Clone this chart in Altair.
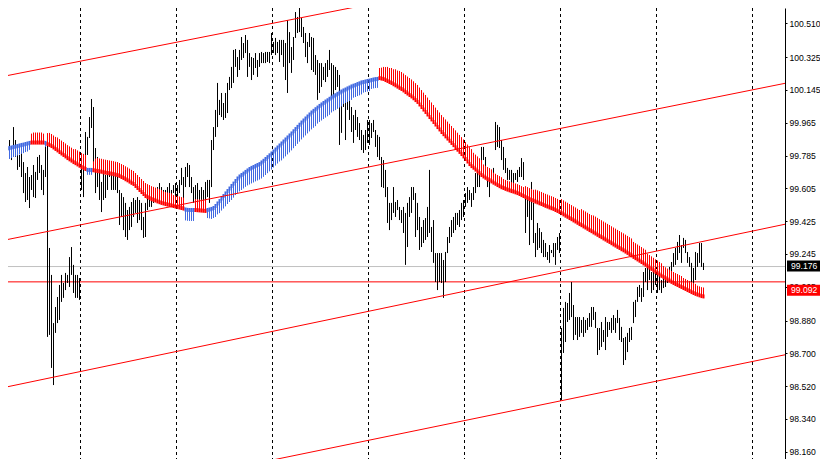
import altair as alt
import pandas as pd

# ---------------- data ----------------
bar_high = [
    99.881, 99.870, 99.854, 99.843, 99.870, 99.832, 99.941, 99.870, 99.815, 99.788,
    99.804, 99.749, 99.689, 99.722, 99.667, 99.678, 99.733, 99.695, 99.777, 99.788,
    99.733, 99.706, 99.854, 99.854, 99.278, 99.130, 98.866, 98.954, 99.009, 99.075,
    99.130, 99.086, 99.141, 99.130, 99.228, 99.283, 99.185, 99.130, 99.130, 99.113,
    99.777, 99.771, 99.914, 99.887, 99.996, 100.095, 100.051, 99.826, 99.777, 99.706,
    99.640, 99.689, 99.678, 99.722, 99.706, 99.695, 99.689, 99.678, 99.689, 99.596,
    99.579, 99.557, 99.525, 99.486, 99.503, 99.530, 99.552, 99.541, 99.557, 99.541,
    99.525, 99.448, 99.525, 99.557, 99.557, 99.579, 99.596, 99.596, 99.612, 99.634,
    99.612, 99.596, 99.596, 99.612, 99.634, 99.596, 99.623, 99.634, 99.623, 99.651,
    99.717, 99.667, 99.722, 99.744, 99.733, 99.667, 99.612, 99.623, 99.634, 99.596,
    99.612, 99.596, 99.640, 99.651, 99.651, 99.870, 99.941, 100.035, 100.183, 100.090,
    100.128, 100.073, 100.128, 100.183, 100.216, 100.271, 100.364, 100.369, 100.325, 100.364,
    100.435, 100.402, 100.446, 100.419, 100.347, 100.325, 100.320, 100.347, 100.309, 100.347,
    100.353, 100.347, 100.353, 100.353, 100.353, 100.457, 100.408, 100.430, 100.408, 100.419,
    100.419, 100.419, 100.402, 100.528, 100.462, 100.380, 100.435, 100.572, 100.545, 100.600,
    100.539, 100.490, 100.457, 100.408, 100.457, 100.435, 100.430, 100.336, 100.309, 100.292,
    100.292, 100.271, 100.292, 100.309, 100.364, 100.292, 100.281, 100.271, 100.254, 100.227,
    100.090, 100.128, 100.090, 100.106, 100.106, 100.051, 100.007, 100.035, 99.996, 99.963,
    99.925, 99.898, 99.925, 99.980, 99.980, 99.963, 99.980, 99.925, 99.898, 99.887,
    99.777, 99.760, 99.706, 99.612, 99.525, 99.525, 99.612, 99.530, 99.541, 99.503,
    99.486, 99.503, 99.470, 99.525, 99.557, 99.612, 99.612, 99.579, 99.525, 99.448,
    99.393, 99.431, 99.442, 99.503, 99.706, 99.393, 99.431, 99.250, 99.250, 99.250,
    99.250, 99.212, 99.256, 99.338, 99.393, 99.431, 99.448, 99.470, 99.470, 99.486,
    99.525, 99.541, 99.579, 99.612, 99.596, 99.579, 99.612, 99.689, 99.744, 99.706,
    99.832, 99.832, 99.777, 99.689, 99.651, 99.689, 99.717, 99.969, 99.953, 99.941,
    99.870, 99.832, 99.771, 99.717, 99.706, 99.706, 99.689, 99.689, 99.706, 99.722,
    99.771, 99.749, 99.607, 99.557, 99.557, 99.640, 99.525, 99.360, 99.415, 99.387,
    99.365, 99.322, 99.305, 99.256, 99.294, 99.267, 99.305, 99.305, 99.338, 99.360,
    98.839, 98.949, 98.982, 98.976, 99.031, 99.091, 98.965, 98.899, 98.899, 98.899,
    98.883, 98.899, 98.883, 98.894, 98.921, 98.954, 98.954, 98.927, 98.839, 98.839,
    98.872, 98.828, 98.899, 98.872, 98.872, 98.894, 98.910, 98.894, 98.938, 98.894,
    98.845, 98.784, 98.790, 98.812, 98.839, 98.845, 98.982, 98.993, 99.064, 99.075,
    99.058, 99.146, 99.168, 99.168, 99.174, 99.146, 99.146, 99.146, 99.157, 99.130,
    99.102, 99.119, 99.119, 99.157, 99.174, 99.201, 99.250, 99.278, 99.311, 99.349,
    99.294, 99.333, 99.322, 99.256, 99.228, 99.196, 99.168, 99.256, 99.250, 99.305,
    99.305, 99.196,
]
bar_low = [
    99.717, 99.733, 99.749, 99.744, 99.777, 99.760, 99.799, 99.777, 99.706, 99.722,
    99.667, 99.579, 99.530, 99.541, 99.497, 99.596, 99.557, 99.552, 99.651, 99.689,
    99.596, 99.568, 99.667, 98.790, 98.801, 98.620, 98.526, 98.812, 98.866, 98.883,
    98.982, 99.004, 99.047, 99.086, 99.064, 99.130, 99.031, 99.004, 99.004, 98.993,
    99.596, 99.557, 99.777, 99.788, 99.881, 99.936, 99.722, 99.579, 99.612, 99.541,
    99.475, 99.541, 99.552, 99.596, 99.667, 99.596, 99.596, 99.596, 99.579, 99.404,
    99.448, 99.376, 99.338, 99.322, 99.376, 99.393, 99.448, 99.470, 99.415, 99.431,
    99.376, 99.333, 99.338, 99.486, 99.503, 99.503, 99.525, 99.541, 99.541, 99.557,
    99.557, 99.541, 99.525, 99.541, 99.557, 99.525, 99.579, 99.541, 99.541, 99.579,
    99.623, 99.503, 99.612, 99.667, 99.612, 99.579, 99.525, 99.541, 99.503, 99.486,
    99.503, 99.486, 99.541, 99.557, 99.525, 99.612, 99.815, 99.887, 99.941, 100.007,
    99.996, 99.980, 99.991, 100.018, 100.144, 100.155, 100.183, 100.271, 100.216, 100.254,
    100.309, 100.320, 100.347, 100.216, 100.271, 100.199, 100.227, 100.265, 100.216, 100.271,
    100.292, 100.292, 100.292, 100.298, 100.292, 100.336, 100.347, 100.336, 100.347, 100.298,
    100.336, 100.271, 100.199, 100.128, 100.292, 100.238, 100.309, 100.430, 100.457, 100.462,
    100.435, 100.402, 100.325, 100.292, 100.380, 100.254, 100.243, 100.227, 100.090, 100.128,
    100.161, 100.199, 100.188, 100.216, 100.254, 100.051, 100.106, 100.144, 100.161, 99.843,
    99.909, 100.051, 99.870, 100.035, 99.980, 99.914, 99.854, 99.925, 99.887, 99.870,
    99.815, 99.799, 99.815, 99.854, 99.843, 99.881, 99.914, 99.832, 99.777, 99.760,
    99.612, 99.607, 99.557, 99.415, 99.376, 99.431, 99.470, 99.448, 99.486, 99.431,
    99.415, 99.360, 99.185, 99.283, 99.448, 99.470, 99.541, 99.338, 99.376, 99.267,
    99.283, 99.305, 99.322, 99.338, 99.360, 99.256, 99.196, 99.091, 99.047, 99.091,
    99.086, 99.004, 99.091, 99.250, 99.305, 99.338, 99.360, 99.376, 99.404, 99.393,
    99.431, 99.448, 99.503, 99.525, 99.541, 99.503, 99.541, 99.579, 99.612, 99.612,
    99.689, 99.760, 99.667, 99.612, 99.557, 99.634, 99.651, 99.815, 99.832, 99.826,
    99.760, 99.706, 99.689, 99.651, 99.651, 99.612, 99.634, 99.651, 99.640, 99.667,
    99.667, 99.651, 99.360, 99.448, 99.294, 99.431, 99.305, 99.228, 99.267, 99.278,
    99.250, 99.228, 99.228, 99.212, 99.196, 99.250, 99.228, 99.185, 99.267, 99.250,
    98.444, 98.702, 98.762, 98.872, 98.883, 98.899, 98.773, 98.801, 98.773, 98.790,
    98.812, 98.790, 98.812, 98.828, 98.845, 98.845, 98.883, 98.839, 98.691, 98.718,
    98.735, 98.762, 98.718, 98.790, 98.828, 98.812, 98.828, 98.812, 98.866, 98.773,
    98.762, 98.636, 98.663, 98.707, 98.762, 98.773, 98.866, 98.899, 98.982, 99.009,
    98.982, 99.009, 99.091, 99.047, 99.102, 99.031, 99.047, 99.075, 99.031, 99.047,
    99.031, 99.058, 99.064, 99.086, 99.102, 99.141, 99.174, 99.185, 99.212, 99.250,
    99.196, 99.278, 99.250, 99.196, 99.174, 99.047, 99.086, 99.102, 99.174, 99.196,
    99.174, 99.157,
]
ma_value = [
    99.815, 99.818, 99.821, 99.823, 99.826, 99.829, 99.832, 99.834, 99.837, 99.840,
    99.843, 99.845, 99.848, 99.851, 99.854, 99.856, 99.856, 99.856, 99.856, 99.856,
    99.856, 99.856, 99.854, 99.848, 99.843, 99.837, 99.829, 99.821, 99.813, 99.804,
    99.796, 99.788, 99.780, 99.771, 99.764, 99.757, 99.749, 99.743, 99.736, 99.729,
    99.722, 99.717, 99.711, 99.706, 99.706, 99.706, 99.704, 99.702, 99.700, 99.698,
    99.696, 99.693, 99.691, 99.689, 99.687, 99.685, 99.683, 99.680, 99.678, 99.673,
    99.667, 99.662, 99.655, 99.649, 99.642, 99.635, 99.629, 99.618, 99.607, 99.596,
    99.585, 99.574, 99.563, 99.557, 99.552, 99.546, 99.542, 99.538, 99.533, 99.529,
    99.525, 99.522, 99.519, 99.516, 99.514, 99.511, 99.508, 99.505, 99.503, 99.500,
    99.497, 99.494, 99.489, 99.487, 99.486, 99.486, 99.486, 99.486, 99.485, 99.484,
    99.483, 99.482, 99.481, 99.486, 99.489, 99.492, 99.497, 99.508, 99.522, 99.535,
    99.549, 99.563, 99.577, 99.590, 99.604, 99.618, 99.631, 99.645, 99.659, 99.670,
    99.678, 99.686, 99.695, 99.703, 99.711, 99.717, 99.722, 99.728, 99.733, 99.738,
    99.747, 99.756, 99.766, 99.776, 99.786, 99.796, 99.807, 99.818, 99.829, 99.840,
    99.851, 99.862, 99.873, 99.884, 99.895, 99.906, 99.918, 99.930, 99.942, 99.954,
    99.966, 99.977, 99.988, 99.999, 100.010, 100.021, 100.030, 100.039, 100.048, 100.057,
    100.065, 100.073, 100.081, 100.088, 100.096, 100.103, 100.110, 100.116, 100.123, 100.130,
    100.136, 100.142, 100.147, 100.153, 100.158, 100.164, 100.168, 100.172, 100.177, 100.181,
    100.186, 100.188, 100.191, 100.194, 100.196, 100.199, 100.202, 100.204, 100.205, 100.210,
    100.207, 100.205, 100.199, 100.194, 100.188, 100.183, 100.176, 100.170, 100.163, 100.156,
    100.150, 100.142, 100.133, 100.125, 100.117, 100.109, 100.099, 100.089, 100.079, 100.065,
    100.051, 100.037, 100.024, 100.010, 99.996, 99.983, 99.969, 99.955, 99.941, 99.928,
    99.914, 99.902, 99.890, 99.878, 99.866, 99.854, 99.842, 99.830, 99.817, 99.805,
    99.793, 99.780, 99.766, 99.752, 99.738, 99.727, 99.718, 99.708, 99.698, 99.688,
    99.678, 99.670, 99.663, 99.656, 99.650, 99.643, 99.636, 99.630, 99.623, 99.617,
    99.611, 99.607, 99.602, 99.598, 99.594, 99.590, 99.587, 99.583, 99.579, 99.574,
    99.568, 99.563, 99.557, 99.552, 99.546, 99.541, 99.537, 99.532, 99.528, 99.523,
    99.519, 99.514, 99.509, 99.505, 99.500, 99.496, 99.492, 99.486, 99.481, 99.475,
    99.469, 99.462, 99.455, 99.449, 99.442, 99.436, 99.429, 99.423, 99.416, 99.409,
    99.403, 99.396, 99.390, 99.383, 99.376, 99.370, 99.363, 99.357, 99.350, 99.343,
    99.337, 99.330, 99.324, 99.317, 99.311, 99.304, 99.297, 99.291, 99.284, 99.278,
    99.271, 99.265, 99.258, 99.251, 99.244, 99.237, 99.229, 99.222, 99.215, 99.208,
    99.201, 99.193, 99.186, 99.178, 99.170, 99.163, 99.155, 99.147, 99.140, 99.132,
    99.125, 99.119, 99.112, 99.105, 99.099, 99.092, 99.086, 99.080, 99.075, 99.069,
    99.064, 99.058, 99.053, 99.047, 99.042, 99.036, 99.031, 99.026, 99.022, 99.018,
    99.014, 99.012,
]
# signed gap between the average and its companion buffer (up = falling, down = rising)
ma_spread = [
    -0.066, -0.066, -0.063, -0.060, -0.060, -0.058, -0.055, -0.055, -0.052, -0.049,
    -0.049, -0.047, -0.044, -0.044, -0.038, 0.049, 0.055, 0.055, 0.055, 0.055,
    0.055, 0.049, -0.022, 0.060, 0.066, 0.066, 0.066, 0.066, 0.071, 0.071,
    0.071, 0.071, 0.071, 0.071, 0.071, 0.071, 0.071, 0.077, 0.077, 0.077,
    0.077, 0.077, 0.077, -0.027, -0.027, -0.027, 0.049, 0.066, 0.071, 0.071,
    0.071, 0.071, 0.071, 0.071, 0.071, 0.071, 0.071, 0.071, 0.071, 0.071,
    0.071, 0.071, 0.071, 0.071, 0.071, 0.071, 0.071, 0.071, 0.071, 0.071,
    0.071, 0.071, 0.071, 0.071, 0.071, 0.071, 0.071, 0.071, 0.071, 0.071,
    0.071, 0.066, 0.066, 0.066, 0.066, 0.066, 0.060, 0.060, 0.060, 0.060,
    0.060, 0.060, -0.060, -0.060, -0.060, -0.060, -0.060, 0.060, 0.060, 0.060,
    0.060, 0.060, 0.060, -0.044, -0.049, -0.055, -0.055, -0.060, -0.060, -0.066,
    -0.066, -0.069, -0.071, -0.071, -0.074, -0.077, -0.077, -0.077, -0.080, -0.082,
    -0.082, -0.082, -0.082, -0.082, -0.085, -0.085, -0.085, -0.085, -0.085, -0.085,
    -0.088, -0.088, -0.088, -0.088, -0.088, -0.088, -0.088, -0.088, -0.088, -0.088,
    -0.093, -0.093, -0.093, -0.093, -0.093, -0.093, -0.093, -0.093, -0.093, -0.093,
    -0.093, -0.093, -0.093, -0.093, -0.093, -0.093, -0.093, -0.093, -0.088, -0.088,
    -0.088, -0.088, -0.088, -0.088, -0.088, -0.082, -0.082, -0.082, -0.082, -0.082,
    -0.082, -0.074, -0.074, -0.074, -0.074, -0.074, -0.066, -0.066, -0.066, -0.066,
    -0.066, -0.058, -0.058, -0.058, -0.058, -0.049, -0.049, -0.049, -0.049, 0.055,
    0.060, 0.066, 0.071, 0.077, 0.077, 0.082, 0.082, 0.088, 0.088, 0.093,
    0.093, 0.093, 0.093, 0.093, 0.093, 0.093, 0.093, 0.093, 0.093, 0.093,
    0.093, 0.093, 0.093, 0.093, 0.093, 0.093, 0.093, 0.093, 0.093, 0.093,
    0.093, 0.093, 0.093, 0.093, 0.093, 0.093, 0.093, 0.093, 0.093, 0.093,
    0.093, 0.093, 0.093, 0.093, 0.093, 0.093, 0.082, 0.082, 0.082, 0.082,
    0.082, 0.066, 0.066, 0.066, 0.066, 0.066, 0.055, 0.055, 0.055, 0.055,
    0.055, 0.049, 0.049, 0.049, 0.049, 0.049, 0.049, 0.049, 0.049, 0.049,
    0.049, 0.049, 0.060, 0.060, 0.060, 0.060, 0.060, 0.066, 0.066, 0.066,
    0.066, 0.066, 0.066, 0.066, 0.066, 0.066, 0.066, 0.066, 0.066, 0.066,
    0.077, 0.077, 0.077, 0.077, 0.077, 0.077, 0.077, 0.077, 0.077, 0.077,
    0.088, 0.088, 0.088, 0.088, 0.088, 0.088, 0.093, 0.093, 0.093, 0.093,
    0.093, 0.093, 0.093, 0.093, 0.093, 0.093, 0.093, 0.093, 0.093, 0.093,
    0.093, 0.093, 0.093, 0.093, 0.093, 0.093, 0.082, 0.082, 0.082, 0.082,
    0.082, 0.082, 0.082, 0.069, 0.069, 0.069, 0.069, 0.069, 0.069, 0.069,
    0.069, 0.060, 0.060, 0.060, 0.060, 0.060, 0.060, 0.060, 0.060, 0.060,
    0.060, 0.055, 0.055, 0.055, 0.055, 0.055, 0.055, 0.055, 0.049, 0.049,
    0.049, 0.049,
]
grid_bars = [39.5, 87.5, 135.5, 183.5, 231.5, 279.5, 327.5, 375.5]
axis_ticks = [100.510, 100.325, 100.145, 99.965, 99.785, 99.605, 99.425,
              99.245, 99.065, 98.880, 98.700, 98.520, 98.340, 98.160]
channel_name = ["c1", "c1", "c2", "c2", "c3", "c3", "c4", "c4"]
channel_bar = [-0.75, 391.75, -0.75, 391.75, -0.75, 391.75, -0.75, 391.75]
channel_price = [100.2155, 101.064, 99.316, 100.181, 98.508, 99.408, 97.808, 98.692]
bid_price = [99.176]
level_price = [99.092]

# ---------------- layout ----------------
W, H = 777, 451
X_DOMAIN = [3.25, 391.75]
Y_DOMAIN = [98.1204, 100.5941]
RED = "#ff0000"
BLUE = "#4169e1"
FONT = "Liberation Sans"

xs = alt.Scale(domain=X_DOMAIN, nice=False, zero=False)
ys = alt.Scale(domain=Y_DOMAIN, nice=False, zero=False)
y_axis = alt.Axis(orient="right", values=axis_ticks, format=".3f", title=None,
                  grid=False, domainColor="black", domainWidth=1, tickColor="black",
                  tickSize=2, tickWidth=1, labelPadding=2, labelFont=FONT,
                  labelFontSize=8.6, labelColor="black", labelOverlap=False,
                  labelBound=False, labelFlush=False)


def Y(field):
    return alt.Y(field, scale=ys, axis=y_axis)


def X(field):
    return alt.X(field, scale=xs, axis=None)


n = len(bar_high)
bars = pd.DataFrame({"i": list(range(n)), "high": bar_high, "low": bar_low})
ma = pd.DataFrame({"i": list(range(len(ma_value))), "ma": ma_value, "spread": ma_spread})
ma["end"] = ma["ma"] + ma["spread"]
ma["trend"] = ["down" if s > 0 else "up" for s in ma["spread"]]
trend_color = alt.Color("trend:N", scale=alt.Scale(domain=["down", "up"], range=[RED, BLUE]),
                        legend=None)

grid = alt.Chart(pd.DataFrame({"g": grid_bars})).mark_rule(
    color="black", strokeDash=[3, 3], strokeWidth=1
).encode(x=X("g:Q"))

bid_line = alt.Chart(pd.DataFrame({"p": bid_price})).mark_rule(
    color="#c0c0c0", strokeWidth=1
).encode(y=Y("p:Q"))

level_line = alt.Chart(pd.DataFrame({"p": level_price})).mark_rule(
    color=RED, strokeWidth=1
).encode(y=Y("p:Q"))

bar_layer = alt.Chart(bars).mark_rule(color="black", strokeWidth=1, clip=True).encode(
    x=X("i:Q"), y=Y("high:Q"), y2="low:Q",
)

hatch = alt.Chart(ma).mark_rule(strokeWidth=1, clip=True).encode(
    x=X("i:Q"), y=Y("ma:Q"), y2="end:Q", color=trend_color,
)

ma_line = alt.Chart(ma).mark_rule(strokeWidth=2, clip=True, yOffset=-2, y2Offset=2).encode(
    x=X("i:Q"), y=Y("ma:Q"), y2="ma:Q", color=trend_color,
)

channels = alt.Chart(pd.DataFrame({"line": channel_name, "bar": channel_bar,
                                   "price": channel_price})).mark_line(
    color=RED, strokeWidth=1, clip=True
).encode(x=X("bar:Q"), y=Y("price:Q"), detail="line:N")

bid_box = alt.Chart(pd.DataFrame({"p": bid_price})).mark_rect(
    color="black", yOffset=-6, y2Offset=5
).encode(x=alt.value(779), x2=alt.value(812), y=Y("p:Q"), y2="p:Q")
bid_text = alt.Chart(pd.DataFrame({"p": bid_price, "t": ["99.176"]})).mark_text(
    color="white", font=FONT, fontSize=8.6, align="left", baseline="middle", dy=-0.5
).encode(x=alt.value(783), y=Y("p:Q"), text="t:N")

lvl_box = alt.Chart(pd.DataFrame({"p": level_price})).mark_rect(
    color=RED, yOffset=3, y2Offset=14
).encode(x=alt.value(779), x2=alt.value(812), y=Y("p:Q"), y2="p:Q")
lvl_text = alt.Chart(pd.DataFrame({"p": level_price, "t": ["99.092"]})).mark_text(
    color="white", font=FONT, fontSize=8.6, align="left", baseline="middle", dy=8.5
).encode(x=alt.value(783), y=Y("p:Q"), text="t:N")

chart = alt.layer(
    grid, bid_line, level_line, bar_layer, hatch, ma_line, channels,
    bid_box, bid_text, lvl_box, lvl_text,
).properties(
    width=W, height=H,
    autosize=alt.AutoSizeParams(type="none"),
    padding={"left": 0, "top": 0, "right": 35, "bottom": 0},
    background="white",
).configure_view(strokeWidth=0)

chart.save("out.html", embed_options={"renderer": "svg", "actions": False})
